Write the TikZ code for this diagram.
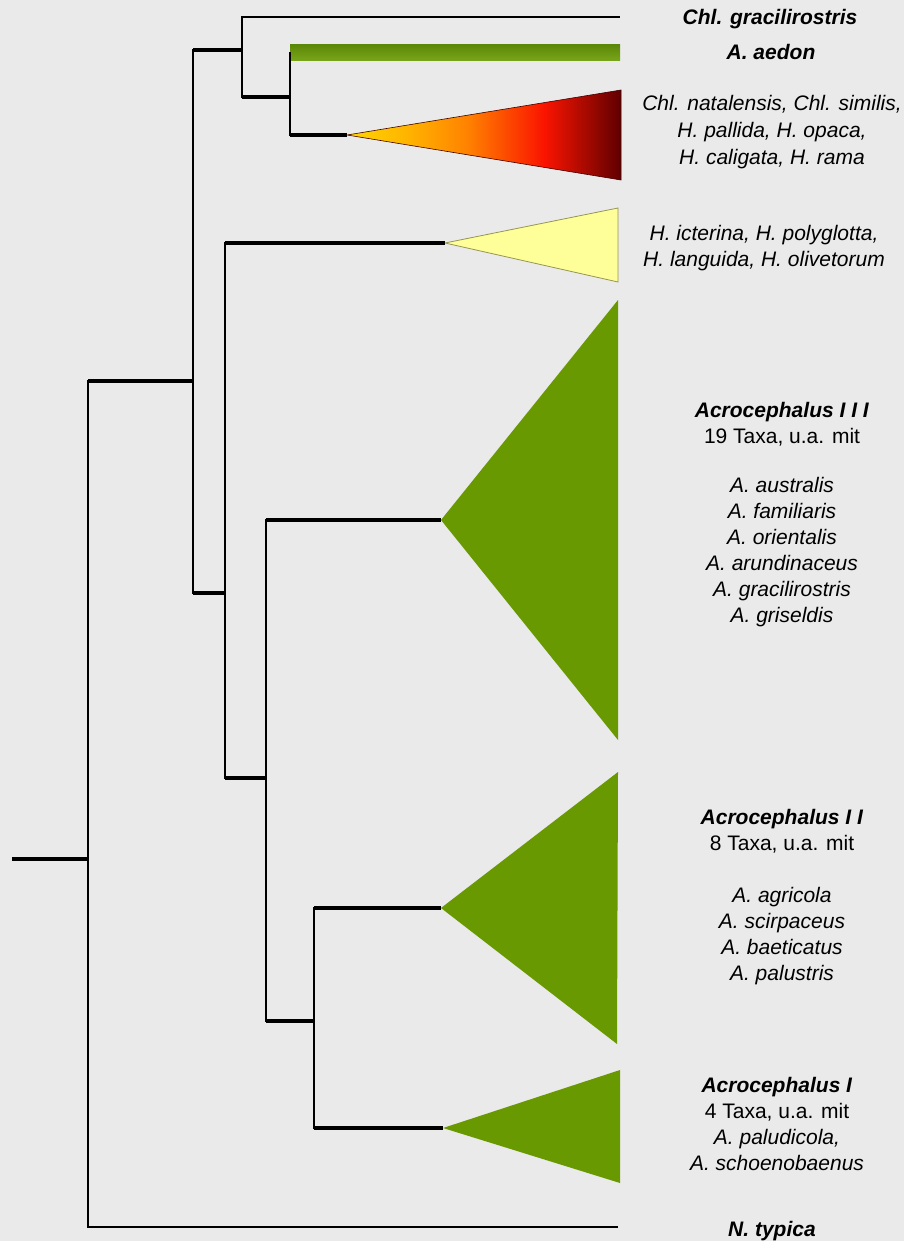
\documentclass[tikz,border=0pt]{standalone}
\usepackage{fontspec}
\setmainfont{Liberation Sans}
\definecolor{paper}{RGB}{234,234,234}
\definecolor{leaf}{RGB}{104,153,0}
\definecolor{leafdark}{RGB}{92,136,8}
\definecolor{leaflight}{RGB}{122,166,26}
\definecolor{pale}{RGB}{255,255,153}
\definecolor{paleedge}{RGB}{150,150,80}
\definecolor{heatA}{RGB}{255,215,0}
\definecolor{heatA2}{RGB}{255,180,0}
\definecolor{heatB}{RGB}{255,130,0}
\definecolor{heatC}{RGB}{250,20,0}
\definecolor{heatD}{RGB}{95,0,0}
% colour ramp of the collapsed Chloropeta/Hippolais clade
\pgfdeclarehorizontalshading{heat}{100bp}{%
  color(0bp)=(heatA); color(25bp)=(heatA); color(36bp)=(heatA2);
  color(47bp)=(heatB); color(61bp)=(heatC); color(75bp)=(heatD);
  color(100bp)=(heatD)}
\begin{document}
\begin{tikzpicture}[x=1pt,y=-1pt,
  stem/.style={line width=4.5pt, black},
  rib/.style={line width=2pt, black, line cap=rect},
  tip/.style={line width=2pt, black},
  clade/.style={fill=leaf},
  lab/.style={font=\fontsize{21}{26}\selectfont, align=center, inner sep=0pt},
  head/.style={lab, font=\fontsize{21}{26}\selectfont\bfseries\itshape}]
\fill[paper] (0,0) rectangle (904,1241);
\useasboundingbox (0,0) rectangle (904,1241);

% internal nodes
\coordinate (r0) at (12,859);
\coordinate (r)  at (88,859);
\coordinate (n1) at (193,381);
\coordinate (n2) at (242,50);
\coordinate (n3) at (290,97);
\coordinate (n4) at (225,593);
\coordinate (n5) at (266,778);
\coordinate (n6) at (314,1021);

% terminal points
\coordinate (tChl) at (620,17);
\coordinate (tNty) at (618,1227);
\coordinate (barA) at (290,45);
\coordinate (barB) at (620,61);
\coordinate (barM) at (290,53);
\coordinate (aHot) at (347,135);
\coordinate (hotT) at (621,90);
\coordinate (hotB) at (621,180);
\coordinate (aYel) at (445,243);
\coordinate (yelT) at (618,208);
\coordinate (yelB) at (618,282);
\coordinate (aA3) at (441,520);
\coordinate (a3T) at (618,300);
\coordinate (a3B) at (618,740);
\coordinate (aA2) at (441,908);
\coordinate (a2T) at (618,772);
\coordinate (a2B) at (617,1044);
\coordinate (aA1) at (443,1128);
\coordinate (a1T) at (620,1070);
\coordinate (a1B) at (620,1183);

% collapsed clades
\shade[top color=leafdark, bottom color=leaflight] (barA) rectangle (barB);
\shade[shading=heat, draw=heatD!70!black, line width=0.6pt] (aHot) -- (hotT) -- (hotB) -- cycle;
\filldraw[fill=pale, draw=paleedge, line width=0.8pt] (aYel) -- (yelT) -- (yelB) -- cycle;
\fill[clade] (aA3) -- (a3T) -- (a3B) -- cycle;
\fill[clade] (aA2) -- (a2T) -- (a2B) -- cycle;
\fill[clade] (aA1) -- (a1T) -- (a1B) -- cycle;

% branches
\draw[stem] (r0) -- (r);
\draw[rib] (n1 -| r) -- (tNty -| r);
\draw[tip] (tNty -| r) -- (tNty);
\draw[stem] (n1 -| r) -- (n1);
\draw[rib] (n2 -| n1) -- (n4 -| n1);
\draw[stem] (n2 -| n1) -- (n2);
\draw[rib] (tChl -| n2) -- (n3 -| n2);
\draw[tip] (tChl -| n2) -- (tChl);
\draw[stem] (n3 -| n2) -- (n3);
\draw[rib] (barM -| n3) -- (aHot -| n3);
\draw[stem] (aHot -| n3) -- (aHot);
\draw[stem] (n4 -| n1) -- (n4);
\draw[rib] (aYel -| n4) -- (n5 -| n4);
\draw[stem] (aYel -| n4) -- (aYel);
\draw[stem] (n5 -| n4) -- (n5);
\draw[rib] (aA3 -| n5) -- (n6 -| n5);
\draw[stem] (aA3 -| n5) -- (aA3);
\draw[stem] (n6 -| n5) -- (n6);
\draw[rib] (aA2 -| n6) -- (aA1 -| n6);
\draw[stem] (aA2 -| n6) -- (aA2);
\draw[stem] (aA1 -| n6) -- (aA1);

% labels
\node[head, anchor=base] (lChl) at (770,25) {Chl. gracilirostris};
\node[head, anchor=base] (lAed) at (771,60) {A. aedon};
\node[lab, anchor=north, font=\fontsize{21}{27}\selectfont\itshape] (lHot) at (772,95)
  {Chl. natalensis, Chl. similis,\\H. pallida, H. opaca,\\H. caligata, H. rama};
\node[lab, anchor=north, font=\fontsize{21}{26}\selectfont\itshape] (lYel) at (764,225)
  {H. icterina, H. polyglotta,\\H. languida, H. olivetorum};
\node[lab, anchor=north] (lA3) at (782,402)
  {\textbf{\textit{Acrocephalus I I I}}\\19 Taxa, u.a. mit\\[23pt]
   \textit{A. australis}\\\textit{A. familiaris}\\\textit{A. orientalis}\\
   \textit{A. arundinaceus}\\\textit{A. gracilirostris}\\\textit{A. griseldis}};
\node[lab, anchor=north] (lA2) at (782,809)
  {\textbf{\textit{Acrocephalus I I}}\\8 Taxa, u.a. mit\\[26pt]
   \textit{A. agricola}\\\textit{A. scirpaceus}\\\textit{A. baeticatus}\\\textit{A. palustris}};
\node[lab, anchor=north] (lA1) at (777,1077)
  {\textbf{\textit{Acrocephalus I}}\\4 Taxa, u.a. mit\\
   \textit{A. paludicola,}\\\textit{A. schoenobaenus}};
\node[head, anchor=base] (lNty) at (772,1236) {N. typica};
\end{tikzpicture}
\end{document}
